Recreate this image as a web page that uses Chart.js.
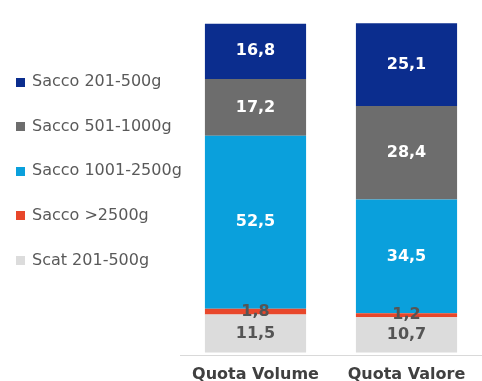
<!DOCTYPE html>
<html>
<head>
<meta charset="utf-8">
<script src="https://cdn.jsdelivr.net/npm/chart.js@4"></script>
<style>
  body { margin: 0; background: #fff; }
  #wrap { width: 482px; height: 381px; }
</style>
</head>
<body>
<div id="wrap"><canvas id="quote" width="482" height="381"></canvas></div>
<script>
const categories = ["Quota Volume", "Quota Valore"];

// stack order, bottom to top
const seriesNames = ["Scat 201-500g", "Sacco >2500g", "Sacco 1001-2500g", "Sacco 501-1000g", "Sacco 201-500g"];
const scat201 = [11.5, 10.7];
const saccoOver2500 = [1.8, 1.2];
const sacco1001 = [52.5, 34.5];
const sacco501 = [17.2, 28.4];
const sacco201 = [16.8, 25.1];

const seriesColors = ["#dcdcdc", "#e8472b", "#0aa0dc", "#6d6d6d", "#0b2d8e"];
const labelColors = ["#555555", "#555555", "#ffffff", "#ffffff", "#ffffff"];

Chart.defaults.font.family = "'DejaVu Sans', sans-serif";

const valueLabels = {
  id: "valueLabels",
  afterDatasetsDraw(chart) {
    const ctx = chart.ctx;
    ctx.save();
    ctx.font = "bold 16px 'DejaVu Sans'";
    ctx.textAlign = "center";
    ctx.textBaseline = "middle";
    chart.data.datasets.forEach((ds, i) => {
      chart.getDatasetMeta(i).data.forEach((bar, j) => {
        ctx.fillStyle = labelColors[i];
        const txt = ds.data[j].toFixed(1).replace(".", ",");
        ctx.fillText(txt, bar.x, (bar.y + bar.base) / 2);
      });
    });
    ctx.restore();
  }
};

// legend on the left, top of the stack listed first
const sideLegend = {
  id: "sideLegend",
  afterDraw(chart) {
    const ctx = chart.ctx;
    const sets = chart.data.datasets.slice().reverse();
    ctx.save();
    ctx.font = "16px 'DejaVu Sans'";
    ctx.textBaseline = "middle";
    sets.forEach((ds, k) => {
      const y = 82 + k * 44.6;
      ctx.fillStyle = ds.backgroundColor;
      ctx.fillRect(16, Math.round(y - 4.5), 9, 9);
      ctx.fillStyle = "#595959";
      ctx.fillText(ds.label, 32, y);
    });
    ctx.restore();
  }
};

const series = [scat201, saccoOver2500, sacco1001, sacco501, sacco201];

new Chart(document.getElementById("quote").getContext("2d"), {
  type: "bar",
  data: {
    labels: categories,
    datasets: series.map((values, i) => ({
      label: seriesNames[i],
      data: values,
      backgroundColor: seriesColors[i],
      borderWidth: 0,
      barPercentage: 0.67,
      categoryPercentage: 1
    }))
  },
  options: {
    responsive: false,
    animation: false,
    layout: { padding: { top: 23, left: 180, right: 0, bottom: -12 } },
    scales: {
      x: {
        stacked: true,
        grid: { display: false, drawTicks: false },
        border: { display: true, color: "#d9d9d9", width: 1 },
        ticks: { color: "#404040", padding: 9, font: { size: 16, weight: "bold" } }
      },
      y: {
        stacked: true,
        display: false,
        min: -1,
        max: 100
      }
    },
    plugins: {
      tooltip: { enabled: false },
      legend: { display: false }
    }
  },
  plugins: [valueLabels, sideLegend]
});
</script>
</body>
</html>
